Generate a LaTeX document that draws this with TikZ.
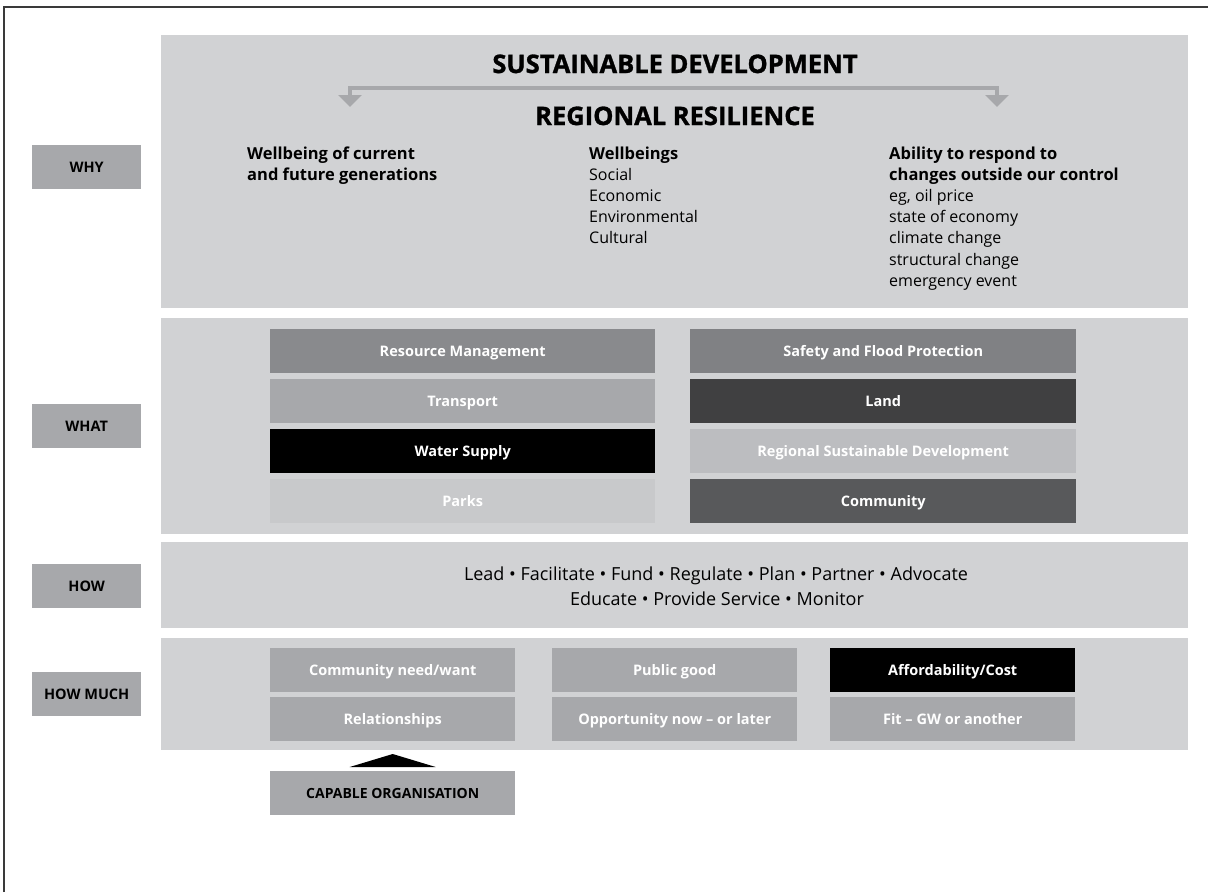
\documentclass[tikz,border=0pt]{standalone}
\usepackage{fontspec}
\setmainfont{Open Sans}
\newfontfamily\heavyfont{Open Sans}[BoldFeatures={FakeBold=1.2}]
\usetikzlibrary{arrows.meta}
\definecolor{panelgray}{HTML}{D1D2D4}
\definecolor{labelgray}{HTML}{A7A8AB}
\definecolor{resmgmt}{HTML}{898A8D}
\definecolor{safety}{HTML}{808184}
\definecolor{transport}{HTML}{A7A8AB}
\definecolor{parks}{HTML}{C8C9CB}
\definecolor{landc}{HTML}{404041}
\definecolor{rsd}{HTML}{BCBDC0}
\definecolor{commc}{HTML}{58595B}
\definecolor{framec}{HTML}{3A3A3A}
\begin{document}
\begin{tikzpicture}[x=1pt,y=-1pt,
  panel/.style={fill=panelgray,draw=none,inner sep=0pt,anchor=north west,minimum width=1027pt},
  lab/.style={fill=labelgray,minimum width=109pt,minimum height=44pt,inner sep=0pt,anchor=north west,
    font=\fontsize{14.5}{17}\selectfont\bfseries,text=black,text height=10.5pt,text depth=0pt},
  wbox/.style={minimum width=385pt,minimum height=44pt,inner sep=0pt,anchor=north west,
    font=\fontsize{14.5}{17}\selectfont\bfseries,text=white,text height=10.5pt,text depth=0pt},
  hbox/.style={wbox,minimum width=245pt,fill=labelgray},
  title/.style={font=\fontsize{25.5}{30}\selectfont\heavyfont\bfseries,anchor=base,inner sep=0pt},
  boldtxt/.style={font=\fontsize{16.5}{20}\selectfont\bfseries,anchor=base west,inner sep=0pt},
  normtxt/.style={font=\fontsize{16}{20}\selectfont,anchor=base west,inner sep=0pt},
  howtxt/.style={font=\fontsize{18}{22}\selectfont,anchor=base,inner sep=0pt},
  arrowline/.style={draw=labelgray,line width=4pt,{Triangle[width=23pt,length=12pt]}-{Triangle[width=23pt,length=12pt]}},
]
\useasboundingbox (0,0) rectangle (1208,892);
\fill[white] (0,0) rectangle (1208,892);
% frame
\coordinate (f0) at (4,892);
\coordinate (f1) at (4,7);
\coordinate (f2) at (1208,7);
\draw[framec,line width=1.8pt] (f0) -- (f1) -- (f2);

% panels
\node[panel,minimum height=273pt] (pwhy) at (161,35) {};
\node[panel,minimum height=216pt] (pwhat) at (161,318) {};
\node[panel,minimum height=86pt] (phow) at (161,542) {};
\node[panel,minimum height=112pt] (phm) at (161,638) {};

% labels
\node[lab] (lwhy) at (32,145) {WHY};
\node[lab] (lwhat) at (32,404) {WHAT};
\node[lab] (lhow) at (32,564) {HOW};
\node[lab] (lhm) at (32,672) {HOW MUCH};

% WHY content
\node[title] (sd) at (675,73) {SUSTAINABLE DEVELOPMENT};
\node[title] (rr) at (675,125) {REGIONAL RESILIENCE};
\coordinate (tl) at (350,107);
\coordinate (tr) at (997,107);
\draw[arrowline] (tl) -- ++(0,-19) -| (tr);

\node[boldtxt] (c1a) at (247,159) {Wellbeing of current};
\node[boldtxt] (c1b) at (247,180) {and future generations};

\node[boldtxt] (c2a) at (589,159) {Wellbeings};
\foreach \t [count=\i] in {Social,Economic,Environmental,Cultural}
  \node[normtxt] (c2\i) at (589,{159+21.2*\i}) {\t};

\node[boldtxt] (c3a) at (889,159) {Ability to respond to};
\node[boldtxt] (c3b) at (889,180) {changes outside our control};
\foreach \t [count=\i] in {{eg, oil price},{state of economy},{climate change},{structural change},{emergency event}}
  \node[normtxt] (c3\i) at (889,{180+21.3*\i}) {\t};

% WHAT boxes
\node[wbox,fill=resmgmt] (rm) at (270,329) {Resource Management};
\node[wbox,fill=transport] (tp) at (270,379) {Transport};
\node[wbox,fill=black] (ws) at (270,429) {Water Supply};
\node[wbox,fill=parks] (pk) at (270,479) {Parks};
\node[wbox,fill=safety,minimum width=386pt] (sf) at (690,329) {Safety and Flood Protection};
\node[wbox,fill=landc,minimum width=386pt] (ld) at (690,379) {Land};
\node[wbox,fill=rsd,minimum width=386pt] (rs) at (690,429) {Regional Sustainable Development};
\node[wbox,fill=commc,minimum width=386pt] (cm) at (690,479) {Community};

% HOW content
\node[howtxt] (h1) at (716,580) {Lead • Facilitate • Fund • Regulate • Plan • Partner • Advocate};
\node[howtxt] (h2) at (717,605.5) {Educate • Provide Service • Monitor};

% HOW MUCH boxes
\node[hbox] (cn) at (270,648) {Community need/want};
\node[hbox] (rl) at (270,697) {Relationships};
\node[hbox] (pg) at (552,648) {Public good};
\node[hbox] (op) at (552,697) {Opportunity now – or later};
\node[hbox,fill=black] (af) at (830,648) {Affordability/Cost};
\node[hbox] (ft) at (830,697) {Fit – GW or another};

% capable organisation
\node[hbox,text=black,font=\fontsize{14}{17}\selectfont\bfseries] (cap) at (270,771) {CAPABLE ORGANISATION};
\fill[black] (cap.north) ++(-43,-4) -- ++(86,0) -- ++(-43,-13) -- cycle;
\end{tikzpicture}
\end{document}
